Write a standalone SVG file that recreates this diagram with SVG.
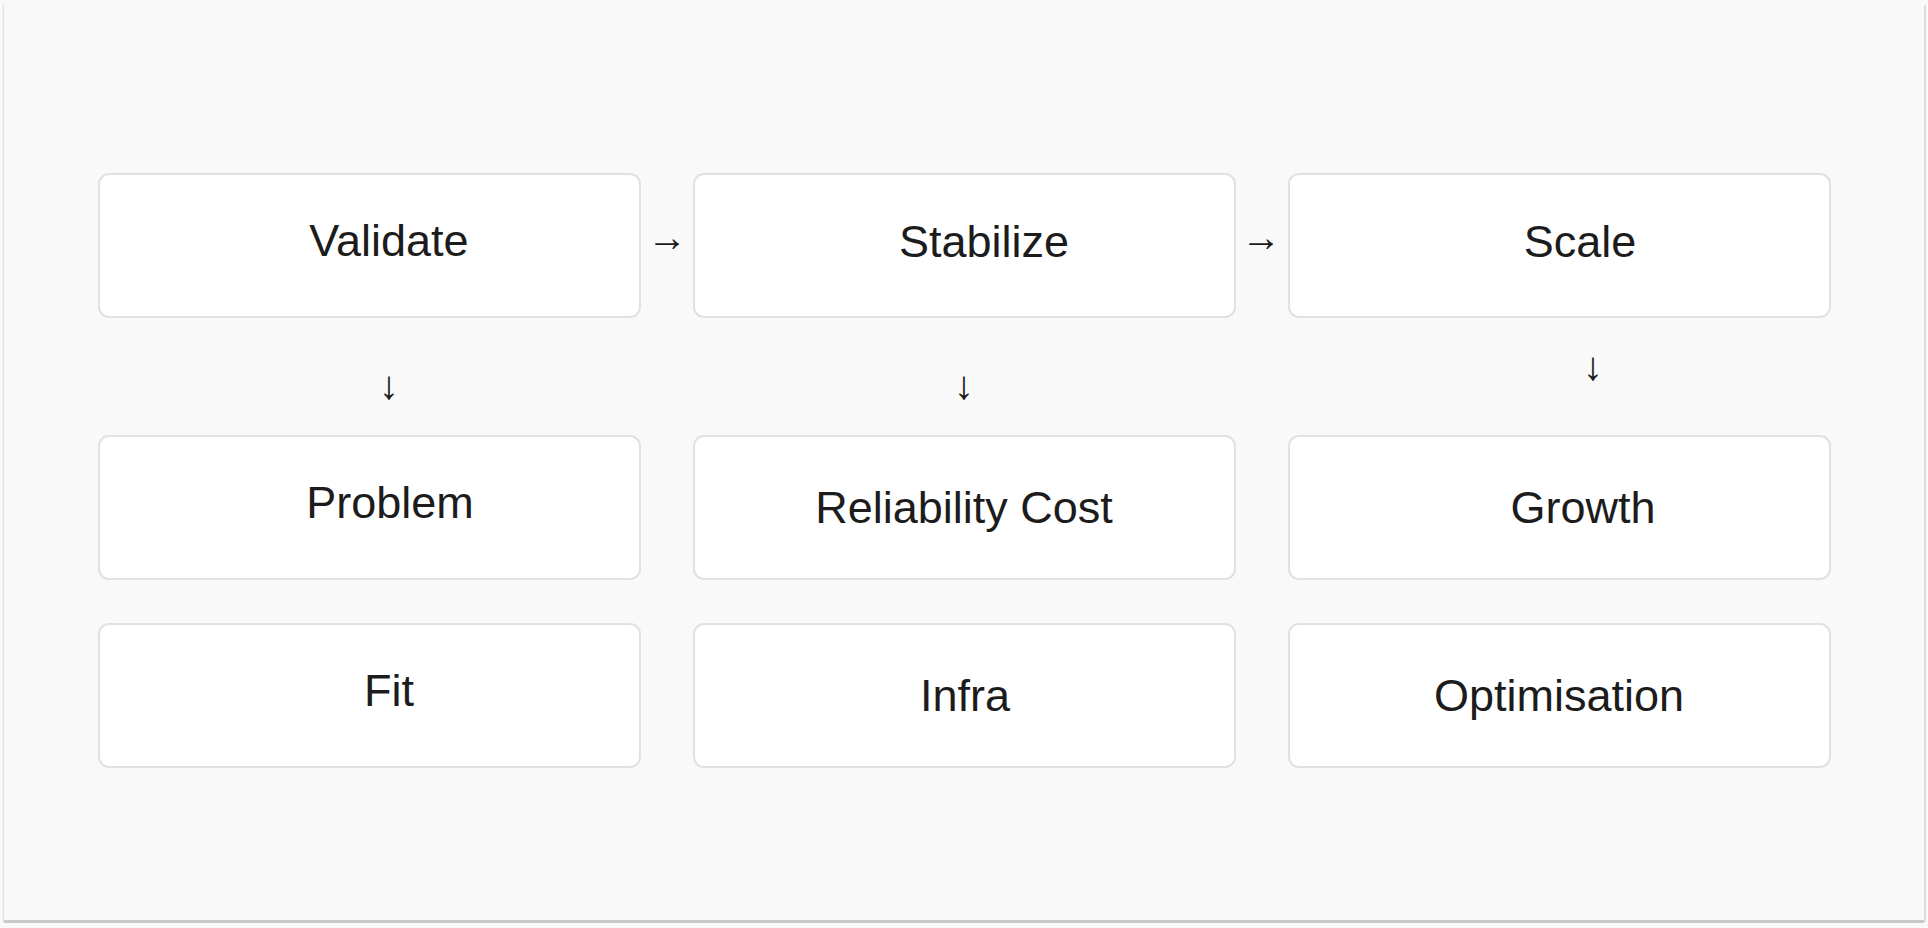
<svg xmlns="http://www.w3.org/2000/svg" width="1928" height="928" viewBox="0 0 1928 928">
<style>
.node rect{fill:#ffffff;stroke:#e1e1e1;stroke-width:2}
.node text{font-family:"Liberation Sans",Arial,sans-serif;font-size:45px;fill:#1c1c1c;text-anchor:middle}
#connectors text{font-family:"Liberation Sans",Arial,sans-serif;font-size:40px;fill:#1c1c1c;text-anchor:middle}
</style>
<rect x="0" y="0" width="1928" height="928" fill="#f9f9f9"/>
<g id="panel">
<line x1="3.5" y1="5" x2="3.5" y2="922" stroke="#e3e3e3" stroke-width="1.5"/>
<line x1="1925" y1="5" x2="1925" y2="922" stroke="#dcdcdc" stroke-width="2"/>
<rect x="4" y="920" width="1920" height="3" fill="#c9c9c9"/>
</g>
<g id="node-validate" class="node"><rect x="99" y="174" width="541" height="143" rx="10"/><text x="389" y="256">Validate</text></g>
<g id="node-stabilize" class="node"><rect x="694" y="174" width="541" height="143" rx="10"/><text x="984" y="257">Stabilize</text></g>
<g id="node-scale" class="node"><rect x="1289" y="174" width="541" height="143" rx="10"/><text x="1580" y="257">Scale</text></g>
<g id="node-problem" class="node"><rect x="99" y="436" width="541" height="143" rx="10"/><text x="390" y="518">Problem</text></g>
<g id="node-reliability" class="node"><rect x="694" y="436" width="541" height="143" rx="10"/><text x="964" y="523">Reliability Cost</text></g>
<g id="node-growth" class="node"><rect x="1289" y="436" width="541" height="143" rx="10"/><text x="1583" y="523">Growth</text></g>
<g id="node-fit" class="node"><rect x="99" y="624" width="541" height="143" rx="10"/><text x="389" y="706">Fit</text></g>
<g id="node-infra" class="node"><rect x="694" y="624" width="541" height="143" rx="10"/><text x="965" y="711">Infra</text></g>
<g id="node-optimisation" class="node"><rect x="1289" y="624" width="541" height="143" rx="10"/><text x="1559" y="711">Optimisation</text></g>
<g id="connectors">
<text x="667" y="250.5">→</text>
<text x="1261" y="250.5">→</text>
<text x="389" y="399">↓</text>
<text x="964" y="399">↓</text>
<text x="1593" y="380">↓</text>
</g>
</svg>
